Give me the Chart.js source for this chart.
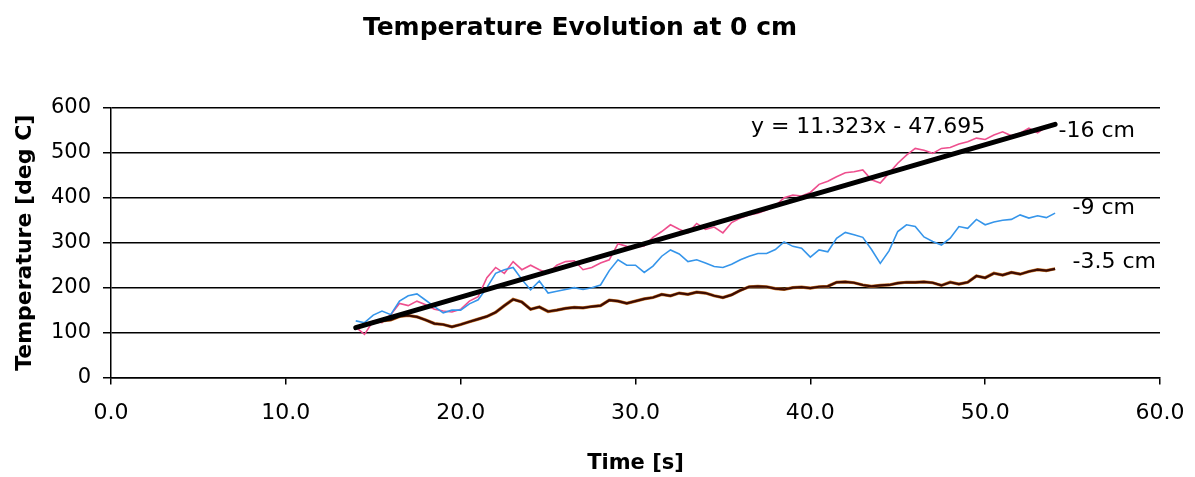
<!DOCTYPE html>
<html>
<head>
<meta charset="utf-8">
<title>Temperature Evolution at 0 cm</title>
<script src="https://cdn.jsdelivr.net/npm/chart.js@4.4.1/dist/chart.umd.min.js"></script>
<style>
  html, body { margin: 0; padding: 0; background: #fff; }
  #wrap { width: 1195px; height: 477px; }
</style>
</head>
<body>
<div id="wrap"><canvas id="tempChart" width="1195" height="477"></canvas></div>
<script>
// sample times [s], shared by the three thermocouples
const times = [
  14.0, 14.5, 15.0, 15.5, 16.0, 16.5, 17.0, 17.5, 18.0, 18.5,
  19.0, 19.5, 20.0, 20.5, 21.0, 21.5, 22.0, 22.5, 23.0, 23.5,
  24.0, 24.5, 25.0, 25.5, 26.0, 26.5, 27.0, 27.5, 28.0, 28.5,
  29.0, 29.5, 30.0, 30.5, 31.0, 31.5, 32.0, 32.5, 33.0, 33.5,
  34.0, 34.5, 35.0, 35.5, 36.0, 36.5, 37.0, 37.5, 38.0, 38.5,
  39.0, 39.5, 40.0, 40.5, 41.0, 41.5, 42.0, 42.5, 43.0, 43.5,
  44.0, 44.5, 45.0, 45.5, 46.0, 46.5, 47.0, 47.5, 48.0, 48.5,
  49.0, 49.5, 50.0, 50.5, 51.0, 51.5, 52.0, 52.5, 53.0, 53.5,
  54.0
];

// temperatures [deg C] at each depth
const temp16 = [
  112, 96, 126, 122, 140, 165, 160, 170, 162, 152,
  148, 146, 152, 170, 180, 222, 245, 232, 258, 240,
  250, 240, 232, 250, 258, 260, 240, 245, 255, 262,
  298, 292, 290, 293, 312, 325, 340, 330, 322, 343,
  330, 335, 322, 345, 355, 362, 366, 373, 382, 400,
  406, 404, 412, 430, 437, 447, 456, 458, 462, 440,
  433, 455, 477, 495, 510, 506, 499, 510, 512, 520,
  525, 533, 530, 540, 547, 538, 544, 555, 545, 558,
  566
];
const temp9 = [
  126, 122, 139, 148, 140, 170, 182, 186, 172, 158,
  144, 150, 150, 164, 173, 200, 232, 240, 245, 218,
  195, 215, 188, 192, 196, 200, 196, 200, 206, 238,
  262, 250, 250, 234, 248, 270, 284, 275, 258, 262,
  255, 247, 245, 252, 262, 270, 276, 276, 285, 302,
  292, 288, 268, 284, 280, 310, 323, 318, 312, 285,
  254, 282, 325, 340, 336, 313, 303, 295, 310, 336,
  332, 352, 340, 346, 350, 352, 362, 355, 360, 356,
  366
];
const temp35 = [
  110, 118, 122, 126, 128, 136, 138, 135, 128, 120,
  118, 113, 118, 124, 130, 136, 145, 160, 174, 168,
  152, 157, 147, 150, 154, 156, 155, 158, 160, 172,
  170, 165, 170, 175, 178, 185, 182, 188, 185, 190,
  188, 182, 178, 184, 194, 202, 203, 202, 198, 196,
  200, 201, 199, 202, 203, 212, 213, 211, 206, 203,
  205, 206, 210, 212, 212, 213, 211, 205, 212, 208,
  212, 226, 222, 232, 228, 234, 230, 236, 240, 238,
  242
];

// linear fit of the -16 cm curve
const fitSlope = 11.323;
const fitIntercept = -47.695;
const fitRange = [14, 54];

const xTicks = [0, 10, 20, 30, 40, 50, 60];
const yTicks = [0, 100, 200, 300, 400, 500, 600];

const pts = (ys) => ys.map((y, i) => ({ x: times[i], y: y }));
const fitPts = fitRange.map(x => ({ x: x, y: fitSlope * x + fitIntercept }));

const FONT = "'DejaVu Sans', 'Liberation Sans', Arial, sans-serif";

// text labels next to the curves and the fit equation
const curveLabels = {
  id: 'curveLabels',
  afterDatasetsDraw(chart) {
    const { ctx, scales: { x, y } } = chart;
    ctx.save();
    ctx.fillStyle = '#000';
    ctx.font = '22px ' + FONT;
    ctx.textBaseline = 'middle';
    ctx.textAlign = 'left';
    const sign = fitIntercept < 0 ? ' - ' : ' + ';
    ctx.fillText('y = ' + fitSlope.toFixed(3) + 'x' + sign + Math.abs(fitIntercept).toFixed(3),
      x.getPixelForValue(36.6), y.getPixelForValue(558));
    ctx.fillText('-16 cm', x.getPixelForValue(54.2), y.getPixelForValue(549));
    ctx.fillText('-9 cm', x.getPixelForValue(55.0), y.getPixelForValue(377));
    ctx.fillText('-3.5 cm', x.getPixelForValue(55.0), y.getPixelForValue(257));
    ctx.restore();
  }
};

const canvas = document.getElementById('tempChart');
Chart.getChart(canvas)?.destroy();

new Chart(canvas, {
  type: 'line',
  data: {
    datasets: [
      {
        label: 'fit',
        data: fitPts,
        borderColor: '#000',
        borderWidth: 5,
        borderCapStyle: 'round'
      },
      {
        label: '-3.5 cm',
        data: pts(temp35),
        borderColor: '#3d0c02',
        borderWidth: 2.2
      },
      {
        label: '-3.5 cm edge',
        data: pts(temp35),
        borderColor: '#c8782c',
        borderWidth: 3.2
      },
      {
        label: '-9 cm',
        data: pts(temp9),
        borderColor: '#3595ea',
        borderWidth: 1.6
      },
      {
        label: '-16 cm',
        data: pts(temp16),
        borderColor: '#ee4f8e',
        borderWidth: 1.6
      }
    ]
  },
  options: {
    responsive: false,
    animation: false,
    elements: { point: { radius: 0 }, line: { tension: 0 } },
    layout: { padding: { left: 0, right: 35, top: 0, bottom: 0 } },
    plugins: {
      legend: { display: false },
      tooltip: { enabled: false },
      title: {
        display: true,
        text: 'Temperature Evolution at 0 cm',
        color: '#000',
        font: { family: FONT, size: 25, weight: 'bold' },
        padding: { top: 13, bottom: 65 }
      }
    },
    scales: {
      x: {
        type: 'linear',
        min: 0,
        max: 60,
        afterFit: (s) => {
          s.height = 99.5;
          s.paddingLeft = 0;
          s.paddingRight = 0;
        },
        afterBuildTicks: (s) => { s.ticks = xTicks.map(v => ({ value: v })); },
        ticks: {
          color: '#000',
          font: { family: FONT, size: 22 },
          padding: 16,
          maxRotation: 0,
          callback: (v) => Number(v).toFixed(1)
        },
        grid: { drawOnChartArea: false, color: '#000', lineWidth: 1.5, tickLength: 7 },
        border: { color: '#000', width: 1.5 },
        title: {
          display: true,
          text: 'Time [s]',
          color: '#000',
          font: { family: FONT, size: 21, weight: 'bold' },
          padding: { top: 0, bottom: 1 }
        }
      },
      y: {
        min: 0,
        max: 600,
        afterFit: (s) => { s.width = 111; },
        afterBuildTicks: (s) => { s.ticks = yTicks.map(v => ({ value: v })); },
        ticks: {
          color: '#000',
          font: { family: FONT, size: 21 },
          padding: 12
        },
        grid: { color: '#000', lineWidth: 1.5, tickLength: 8 },
        border: { color: '#000', width: 1.5 },
        title: {
          display: true,
          text: 'Temperature [deg C]',
          color: '#000',
          font: { family: FONT, size: 22, weight: 'bold' },
          padding: { top: 12, bottom: 0 }
        }
      }
    }
  },
  plugins: [curveLabels]
});
</script>
</body>
</html>
